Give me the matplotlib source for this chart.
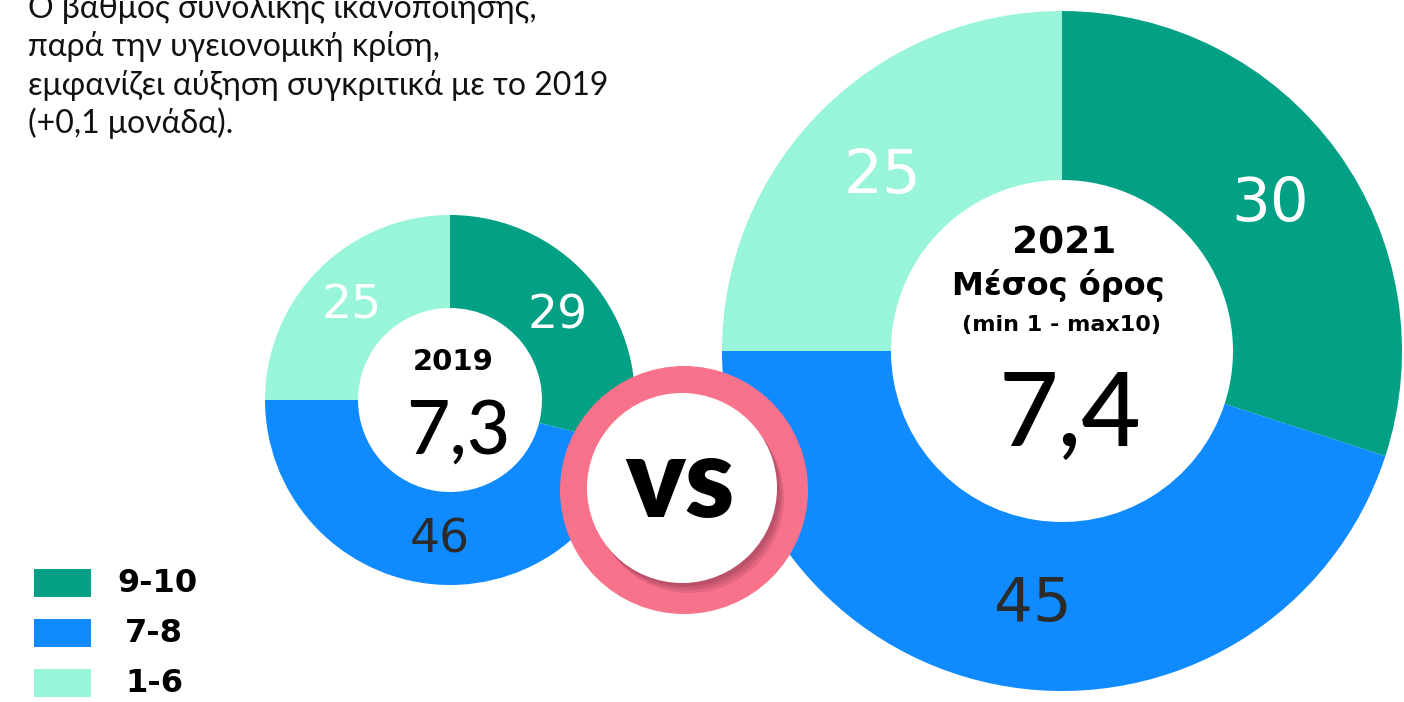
import matplotlib
matplotlib.use('Agg')
import matplotlib.pyplot as plt
from matplotlib.patches import Circle, Rectangle

plt.rcParams['font.family'] = ['DejaVu Sans']
NUM_FONT = ['Lato', 'DejaVu Sans']

# data
categories = ['9-10', '7-8', '1-6']
colors = ['#02A084', '#0F8AFF', '#99F5DA']
values_2019 = [29, 46, 25]
values_2021 = [30, 45, 25]
mean_2019 = '7,3'
mean_2021 = '7,4'
label_colors = ['white', '#2b2b2b', 'white']

intro = ['Ο βαθμός συνολικής ικανοποίησης,',
         'παρά την υγειονομική κρίση,',
         'εμφανίζει αύξηση συγκριτικά με το 2019',
         '(+0,1 μονάδα).']

W, H = 1404, 702
fig = plt.figure(figsize=(W / 100, H / 100), dpi=100)
ax = fig.add_axes([0, 0, 1, 1])

def Y(y):
    # pixel row (from top) -> data y
    return H - y

# small donut (2019)
c1, r1 = (450, Y(400)), 185
ax.pie(values_2019, colors=colors, startangle=90, counterclock=False,
       center=c1, radius=r1, wedgeprops=dict(width=r1 - 92, linewidth=0))
# big donut (2021)
c2, r2 = (1062, Y(351)), 340
ax.pie(values_2021, colors=colors, startangle=90, counterclock=False,
       center=c2, radius=r2, wedgeprops=dict(width=r2 - 171, linewidth=0))

# segment labels
pos_2019 = [(558, 316), (440, 540), (352, 306)]
for v, (x, y), col in zip(values_2019, pos_2019, label_colors):
    ax.text(x, Y(y), str(v), color=col, fontsize=34, ha='center', va='center')
pos_2021 = [(1270, 205), (1033, 605), (882, 177)]
for v, (x, y), col in zip(values_2021, pos_2021, label_colors):
    ax.text(x, Y(y), str(v), color=col, fontsize=44, ha='center', va='center')

# center texts
ax.text(453, Y(362), '2019', fontsize=21, fontweight='bold', ha='center', va='center')
ax.text(458, Y(432), mean_2019, fontsize=54, family=NUM_FONT, fontweight='medium',
        ha='center', va='center')
ax.text(1064, Y(243), '2021', fontsize=27, fontweight='bold', ha='center', va='center')
ax.text(1058, Y(285), 'Μέσος όρος', fontsize=23, fontweight='bold', ha='center', va='center')
ax.text(1062, Y(325), '(min 1 - max10)', fontsize=16, fontweight='bold', ha='center', va='center')
ax.text(1070, Y(416), mean_2021, fontsize=74, family=NUM_FONT, fontweight='medium',
        ha='center', va='center')

# VS badge
ax.add_patch(Circle((684, Y(490)), 124, color='#F7728A', zorder=5, linewidth=0))
for dx, dy, a in [(7, 10, 0.25), (5, 7, 0.35), (3, 4, 0.45)]:
    ax.add_patch(Circle((682 + dx, Y(488 + dy)), 95, color='#A84860', alpha=a,
                        zorder=6, linewidth=0))
ax.add_patch(Circle((682, Y(488)), 95, color='white', zorder=7, linewidth=0))
ax.text(680, Y(484), 'vs', fontsize=80, family=NUM_FONT, fontweight='heavy',
        ha='center', va='center', zorder=8)

# intro paragraph (first line is cropped at the top edge, as in the original)
for i, line in enumerate(intro):
    ax.text(28, Y(18 + 38.3 * i), line, fontsize=23, family=NUM_FONT, color='#111111',
            ha='left', va='baseline')

# legend
for i, (cat, col) in enumerate(zip(categories, colors)):
    y0 = 569 + 50 * i
    ax.add_patch(Rectangle((34, Y(y0 + 28)), 57, 28, color=col, linewidth=0))
    ax.text(117 if i == 0 else 125, Y(y0 + 14), cat, fontsize=23, fontweight='bold',
            ha='left', va='center')

ax.set_xlim(0, W)
ax.set_ylim(0, H)
ax.set_aspect('auto')
ax.axis('off')
fig.savefig('out.png', dpi=100, facecolor='white')
